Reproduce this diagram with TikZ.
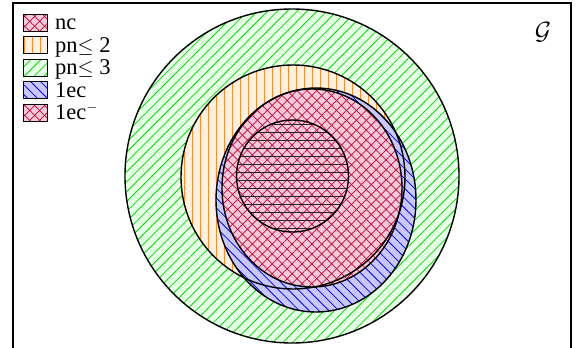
\documentclass[tikz,border=0pt]{standalone}
\usepackage{fontspec}
\setmainfont{Liberation Serif}
\usetikzlibrary{patterns.meta}
\definecolor{grfill}{HTML}{E8FFE8}
\definecolor{grline}{HTML}{00E000}
\definecolor{orfill}{HTML}{FFF0E3}
\definecolor{orline}{HTML}{FF8C1E}
\definecolor{blfill}{HTML}{C8C8FF}
\definecolor{blline}{HTML}{0000F0}
\definecolor{rdfill}{HTML}{F2CAD8}
\definecolor{rdline}{HTML}{C8003C}
\tikzset{
  outl/.style={draw=black, line width=1.4pt},
  grpat/.style={pattern={Lines[angle=45,distance=7pt,line width=0.8pt]}, pattern color=grline},
  orpat/.style={pattern={Lines[angle=90,distance=8pt,line width=0.9pt]}, pattern color=orline},
  blpat/.style={pattern={Lines[angle=-45,distance=7pt,line width=0.8pt]}, pattern color=blline},
  rdpatA/.style={pattern={Lines[angle=45,distance=7pt,line width=0.7pt]}, pattern color=rdline},
  rdpatB/.style={pattern={Lines[angle=-45,distance=7pt,line width=0.7pt]}, pattern color=rdline},
  hzpat/.style={pattern={Lines[angle=0,distance=8pt,line width=0.8pt]}, pattern color=black!85},
  legtext/.style={anchor=base west, inner sep=0pt, font=\fontsize{22.5}{25}\selectfont},
  swatch/.style={draw=black, line width=0.9pt},
}
\begin{document}
\begin{tikzpicture}[x=1pt,y=-1pt]
\useasboundingbox (0,0) rectangle (576,348);
\clip (0,0) rectangle (576,348);
\fill[white] (0,0) rectangle (576,348);
% fills
\fill[grfill] (292,176) circle [radius=167pt];
\fill[grpat] (292,176) circle [radius=167pt];
\fill[orfill] (293,177) circle [radius=112pt];
\fill[orpat] (293,177) circle [radius=112pt];
\fill[blfill] (316,200) ellipse [x radius=100pt, y radius=112pt];
\fill[blpat] (316,200) ellipse [x radius=100pt, y radius=112pt];
\fill[rdfill] (312,188) ellipse [x radius=90pt, y radius=99pt];
\fill[rdpatA] (312,188) ellipse [x radius=90pt, y radius=99pt];
\fill[rdpatB] (312,188) ellipse [x radius=90pt, y radius=99pt];
\fill[hzpat] (292.5,176) circle [radius=56pt];
% outlines
\draw[outl] (292,176) circle [radius=167pt];
\draw[outl] (293,177) circle [radius=112pt];
\draw[outl] (316,200) ellipse [x radius=100pt, y radius=112pt];
\draw[outl] (312,188) ellipse [x radius=90pt, y radius=99pt];
\draw[outl] (292.5,176) circle [radius=56pt];
% frame
\draw[line width=1.1pt] (13,3) rectangle (571,360);
% legend
\fill[rdfill] (23,14) rectangle (47,31);
\fill[rdpatA] (23,14) rectangle (47,31);
\fill[rdpatB] (23,14) rectangle (47,31);
\draw[swatch] (23,14) rectangle (47,31);
\node[legtext] (lnc) at (55,29.5) {nc};
\fill[orfill] (23,36.5) rectangle (47,53.5);
\fill[orpat] (23,36.5) rectangle (47,53.5);
\draw[swatch] (23,36.5) rectangle (47,53.5);
\node[legtext] (lpn2) at (55,52) {pn$\leq$ 2};
\fill[grfill] (23,59) rectangle (47,76);
\fill[grpat] (23,59) rectangle (47,76);
\draw[swatch] (23,59) rectangle (47,76);
\node[legtext] (lpn3) at (55,74.5) {pn$\leq$ 3};
\fill[blfill] (23,81.5) rectangle (47,98.5);
\fill[blpat] (23,81.5) rectangle (47,98.5);
\draw[swatch] (23,81.5) rectangle (47,98.5);
\node[legtext] (l1ec) at (55,97) {1ec};
\fill[rdfill] (23,104) rectangle (47,121);
\fill[rdpatA] (23,104) rectangle (47,121);
\fill[rdpatB] (23,104) rectangle (47,121);
\draw[swatch] (23,104) rectangle (47,121);
\node[legtext] (l1ecm) at (55,119.5) {1ec$^-$};
\node[inner sep=0pt, font=\fontsize{29}{32}\selectfont] (G) at (543,32) {$\mathcal{G}$};
\end{tikzpicture}
\end{document}
